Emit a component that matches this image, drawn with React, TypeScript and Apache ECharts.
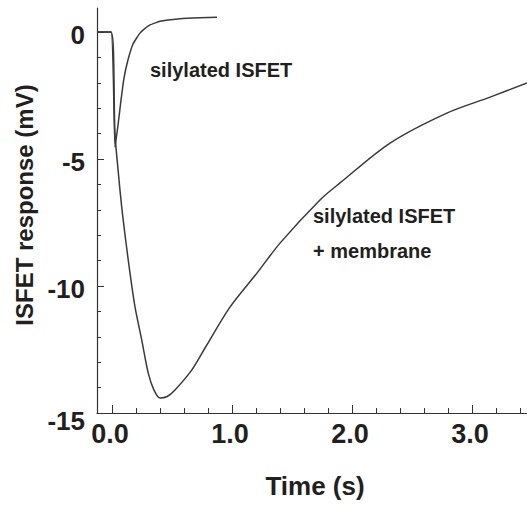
import React, { useEffect, useRef } from "react";
import * as echarts from "echarts";

const silylatedT = [-0.125, -0.008, 0.025, 0.05, 0.075, 0.1, 0.133, 0.175, 0.233, 0.3, 0.4, 0.567, 0.733, 0.875];
const silylatedV = [0, 0, -4.53, -3.66, -2.68, -1.81, -1.1, -0.47, -0.04, 0.24, 0.43, 0.53, 0.57, 0.59];

const membraneT = [-0.125, -0.008, 0.025, 0.053, 0.081, 0.114, 0.15, 0.192, 0.248, 0.302, 0.35, 0.4, 0.46, 0.525, 0.664, 0.775, 0.983, 1.208, 1.4, 1.733, 1.9, 2.317, 2.79, 3.15, 3.458];
const membraneV = [0, 0, -4.0, -5.55, -6.89, -8.19, -9.49, -10.83, -12.13, -13.43, -14.1, -14.41, -14.35, -14.09, -13.31, -12.44, -10.83, -9.49, -8.31, -6.61, -5.94, -4.37, -3.19, -2.56, -2.0];

const xMinorTicks = [0, 0.2, 0.4, 0.6, 0.8, 1, 1.2, 1.4, 1.6, 1.8, 2, 2.2, 2.4, 2.6, 2.8, 3, 3.2, 3.4];
const xMajorTicks = [0, 1, 2, 3];
const xLabels = [0, 1, 2, 3];
const yMinorTicks = [0, -1, -2, -3, -4, -5, -6, -7, -8, -9, -10, -11, -12, -13, -14, -15];
const yMajorTicks = [0, -5, -10, -15];
const yLabels = [0, -5, -10, -15];

const FONT = "'Liberation Sans', Arial, sans-serif";
const INK = "#231f20";

export default function App() {
  const ref = useRef<HTMLDivElement>(null);
  useEffect(() => {
    if (!ref.current) return;
    const chart = echarts.init(ref.current, null, { renderer: "svg" });
    const xBase = { type: "value", min: -0.125, max: 3.458, splitLine: { show: false } };
    const yBase = { type: "value", min: -15, max: 0.95, splitLine: { show: false } };
    chart.setOption({
      animation: false,
      backgroundColor: "#ffffff",
      grid: { left: 97, right: 0, top: 8, bottom: 92, containLabel: false },
      xAxis: [
        {
          ...xBase,
          axisLine: { show: true, onZero: false, lineStyle: { color: "#333", width: 1.2 } },
          axisTick: { show: true, inside: true, length: 5, customValues: xMinorTicks, lineStyle: { color: "#333", width: 1 } },
          axisLabel: {
            show: true,
            customValues: xLabels,
            formatter: (v: number) => v.toFixed(1),
            fontFamily: FONT,
            fontWeight: "bold",
            fontSize: 27,
            color: INK,
            margin: 7,
            padding: [0, 4, 0, 0],
          },
        },
        {
          ...xBase,
          position: "bottom",
          axisLine: { show: false, onZero: false },
          axisTick: { show: true, inside: true, length: 8, customValues: xMajorTicks, lineStyle: { color: "#333", width: 1 } },
          axisLabel: { show: false },
        },
      ],
      yAxis: [
        {
          ...yBase,
          position: "left",
          axisLine: { show: true, onZero: false, lineStyle: { color: "#333", width: 1.2 } },
          axisTick: { show: true, inside: true, length: 4, customValues: yMinorTicks, lineStyle: { color: "#333", width: 1 } },
          axisLabel: {
            show: true,
            customValues: yLabels,
            formatter: (v: number) => (v === -15 ? "{low|-15}" : String(v)),
            fontFamily: FONT,
            fontWeight: "bold",
            fontSize: 26,
            color: INK,
            margin: 12,
            padding: [6, 0, 0, 0],
            rich: {
              low: {
                fontFamily: FONT,
                fontWeight: "bold",
                fontSize: 26,
                color: INK,
                padding: [10, 0, 0, 0],
              },
            },
          },
        },
        {
          ...yBase,
          position: "left",
          offset: 0,
          axisLine: { show: false, onZero: false },
          axisTick: { show: true, inside: true, length: 7, customValues: yMajorTicks, lineStyle: { color: "#333", width: 1 } },
          axisLabel: { show: false },
        },
      ],
      series: [
        {
          type: "line",
          name: "silylated ISFET",
          data: silylatedT.map((t, i) => [t, silylatedV[i]]),
          showSymbol: false,
          smooth: 0.15,
          lineStyle: { color: "#3a3a3a", width: 1.5 },
        },
        {
          type: "line",
          name: "silylated ISFET + membrane",
          data: membraneT.map((t, i) => [t, membraneV[i]]),
          showSymbol: false,
          smooth: 0.3,
          lineStyle: { color: "#3a3a3a", width: 1.5 },
        },
      ],
      graphic: [
        {
          type: "text",
          left: 150,
          top: 60,
          style: { text: "silylated ISFET", font: `bold 20px ${FONT}`, fill: INK },
        },
        {
          type: "text",
          left: 313,
          top: 206,
          style: { text: "silylated ISFET", font: `bold 20px ${FONT}`, fill: INK },
        },
        {
          type: "text",
          left: 313,
          top: 241,
          style: { text: "+ membrane", font: `bold 20px ${FONT}`, fill: INK },
        },
        {
          type: "text",
          x: 24,
          y: 205,
          rotation: Math.PI / 2,
          style: {
            text: "ISFET response (mV)",
            font: `bold 24px ${FONT}`,
            fill: INK,
            align: "center",
            verticalAlign: "middle",
          },
        },
        {
          type: "text",
          x: 315,
          y: 486,
          style: {
            text: "Time (s)",
            font: `bold 26px ${FONT}`,
            fill: INK,
            align: "center",
            verticalAlign: "middle",
          },
        },
      ],
    });
    return () => chart.dispose();
  }, []);
  return (
    <div
      ref={ref}
      style={{ position: "fixed", left: 0, top: 0, width: 527, height: 505 }}
    />
  );
}
